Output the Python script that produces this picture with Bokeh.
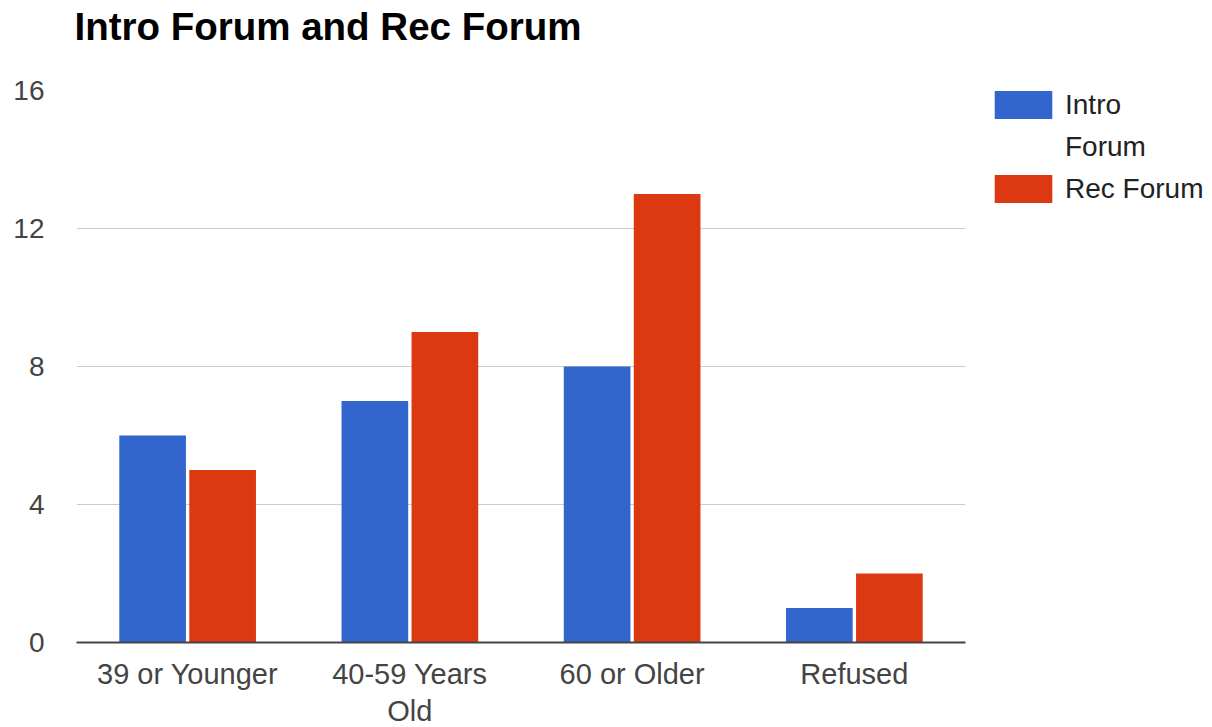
from bokeh.plotting import figure
from bokeh.models import (ColumnDataSource, FactorRange, Range1d, FixedTicker,
                          Legend, LegendItem, CategoricalAxis, CustomJSTickFormatter,
                          Title)
from bokeh.transform import dodge
from bokeh.embed import file_html
from bokeh.resources import INLINE

# Survey responses by age group
categories = ["39 or Younger", "40-59 Years Old", "60 or Older", "Refused"]
intro_forum = [6, 7, 8, 1]
rec_forum = [5, 9, 13, 2]
y_ticks = [0, 4, 8, 12, 16]
# category labels, wrapped over two rows
label_row1 = ["39 or Younger", "40-59 Years", "60 or Older", "Refused"]
label_row2 = ["", "Old", "", ""]
chart_title = "Intro Forum and Rec Forum"

BLUE = "#3366CC"
RED = "#DC3912"
FONT = "Liberation Sans"

src = ColumnDataSource(dict(cat=categories, intro=intro_forum, rec=rec_forum))

p = figure(
    title=None,
    x_range=FactorRange(*categories, range_padding=0),
    y_range=Range1d(0, 16),
    frame_width=889, frame_height=552,
    min_border_left=76, min_border_right=247,
    min_border_top=90, min_border_bottom=85,
    output_backend="svg", toolbar_location=None,
    outline_line_color=None,
)

# blank strip between the plot area and the heading
gap = Title(text=" ", text_font_size="1px", standoff=40)
p.add_layout(gap, "above")
heading = Title(text=chart_title, align="left", offset=-2, standoff=0,
                text_font=FONT, text_font_size="38.5px", text_font_style="bold",
                text_color="#000000")
p.add_layout(heading, "above")

r_intro = p.vbar(x=dodge("cat", -0.1575, range=p.x_range), top="intro", width=0.30,
                 source=src, fill_color=BLUE, line_color=None)
r_rec = p.vbar(x=dodge("cat", 0.1575, range=p.x_range), top="rec", width=0.30,
               source=src, fill_color=RED, line_color=None)
# empty, invisible renderer used for the wrapped second line of a legend label
r_wrap = p.vbar(x=[], top=[], width=0.30, fill_alpha=0, line_alpha=0)

# grid
p.xgrid.grid_line_color = None
p.ygrid.ticker = FixedTicker(ticks=y_ticks)
p.ygrid.grid_line_color = "#cccccc"
p.ygrid.grid_line_width = 1

# y axis: labels only
p.yaxis.ticker = FixedTicker(ticks=y_ticks)
p.yaxis.axis_line_color = None
p.yaxis.major_tick_line_color = None
p.yaxis.minor_tick_line_color = None
p.yaxis.major_label_standoff = 26
p.yaxis.major_label_text_font = FONT
p.yaxis.major_label_text_font_size = "28px"
p.yaxis.major_label_text_color = "#444444"


def row_formatter(rows):
    return CustomJSTickFormatter(
        args=dict(cats=categories, rows=rows),
        code="const i = cats.indexOf(tick); return i < 0 ? '' : rows[i];",
    )


# x axis: baseline and first row of category labels
xa = p.xaxis[0]
xa.axis_line_color = "#444444"
xa.axis_line_width = 2
xa.major_tick_line_color = None
xa.minor_tick_line_color = None
xa.major_label_standoff = 9
xa.major_label_text_font = FONT
xa.major_label_text_font_size = "29px"
xa.major_label_text_color = "#444444"
xa.formatter = row_formatter(label_row1)

# second row of category labels
xa2 = CategoricalAxis(
    axis_line_color=None, major_tick_line_color=None, minor_tick_line_color=None,
    major_label_standoff=-4, major_label_text_font=FONT,
    major_label_text_font_size="29px", major_label_text_color="#444444",
    formatter=row_formatter(label_row2),
)
p.add_layout(xa2, "below")

legend = Legend(
    items=[LegendItem(label="Intro", renderers=[r_intro]),
           LegendItem(label="Forum", renderers=[r_wrap]),
           LegendItem(label="Rec Forum", renderers=[r_rec])],
    location=(22, 436),
    glyph_width=72, glyph_height=35, label_standoff=6,
    spacing=7, padding=0, margin=0,
    border_line_color=None, background_fill_alpha=0,
    label_text_font=FONT, label_text_font_size="28px",
    label_text_color="#222222",
)
p.add_layout(legend, "right")

open("out.html", "w").write(file_html(p, INLINE))
